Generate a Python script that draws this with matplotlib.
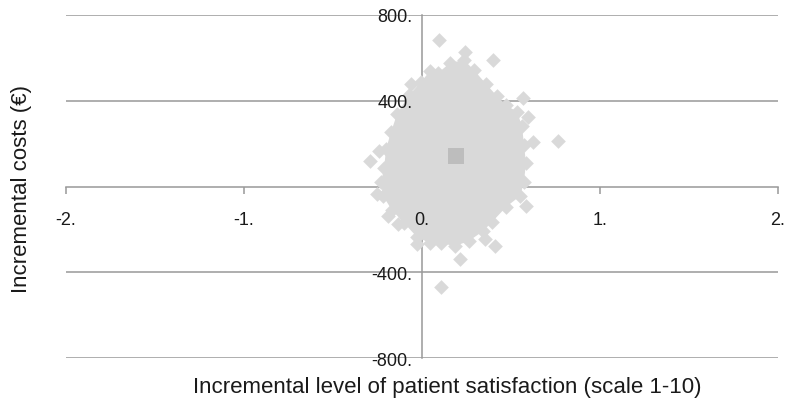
import matplotlib.pyplot as plt

plt.rcParams['font.family'] = ['Liberation Sans', 'DejaVu Sans']

# outer ring of the bootstrap cloud (centres of the edge diamonds)
edge_x = [0.090, 0.157, 0.236, 0.292, 0.360, 0.421, 0.472, 0.534, 0.562, 0.573,
          0.584, 0.573, 0.551, 0.472, 0.393, 0.343, 0.264, 0.185, 0.107, 0.045,
          -0.028, -0.101, -0.169, -0.219, -0.230, -0.213, -0.202, -0.174, -0.140,
          -0.073, -0.006, 0.045]
edge_y = [529, 576, 590, 543, 478, 422, 380, 348, 282, 194,
          110, 21, -44, -96, -166, -208, -254, -278, -264, -264,
          -236, -170, -110, -44, 21, 86, 175, 254, 338,
          426, 487, 539]

# loose replicates outside the dense core
out_x = [0.096, 0.399, 0.242, -0.062, -0.292, -0.242, 0.567, 0.596, 0.764, 0.624,
         0.584, 0.354, 0.410, 0.213, 0.107, -0.028, -0.253, -0.191, -0.135]
out_y = [683, 590, 627, 478, 119, 166, 413, 324, 212, 207,
         -91, -245, -278, -338, -469, -268, -35, -138, -175]

mean_x = [0.19]
mean_y = [140]

x_ticks = [-2, -1, 0, 1, 2]
x_labels = ['-2.', '-1.', '0.', '1.', '2.']
y_grid = [-800, -400, 400, 800]
y_labels = ['-800.', '-400.', '400.', '800.']

cloud_color = '#d9d9d9'
grid_color = '#999999'
text_color = '#1a1a1a'

fig = plt.figure(figsize=(7.94, 4.02), dpi=100)
ax = fig.add_axes([66 / 794, 1 - 359 / 402, 712 / 794, 343 / 402])
ax.set_xlim(-2, 2)
ax.set_ylim(-800, 800)

for g in y_grid:
    ax.axhline(g, color=grid_color, lw=1.1, zorder=0.5)

ax.fill(edge_x, edge_y, color=cloud_color, lw=0, zorder=1)
ax.scatter(edge_x + out_x, edge_y + out_y, marker='D', s=56, color=cloud_color,
           linewidths=0, zorder=1.2)
ax.scatter(mean_x, mean_y, marker='s', s=130, color='#bdbdbd', linewidths=0, zorder=1.5)

for side in ['top', 'right']:
    ax.spines[side].set_visible(False)
ax.spines['left'].set_position(('data', 0))
ax.spines['bottom'].set_position(('data', 0))
for side in ['left', 'bottom']:
    ax.spines[side].set_color(grid_color)
    ax.spines[side].set_linewidth(1.1)
    ax.spines[side].set_zorder(0.5)

ax.set_xticks(x_ticks)
ax.set_xticklabels(x_labels)
ax.set_yticks(y_grid)
ax.set_yticklabels(y_labels)
ax.tick_params(axis='x', direction='out', length=5, width=1.1, color=grid_color,
               pad=13, labelsize=13, labelcolor=text_color)
ax.tick_params(axis='y', length=0, pad=7, labelsize=13, labelcolor=text_color)
ax.xaxis.get_major_ticks()[2].tick1line.set_visible(False)

fig.text(447 / 794, 1 - 388 / 402, 'Incremental level of patient satisfaction (scale 1-10)',
         ha='center', va='center', fontsize=16, color=text_color)
fig.text(22 / 794, 1 - 189 / 402, 'Incremental costs (€)', rotation=90,
         ha='center', va='center', fontsize=16, color=text_color)

fig.savefig('out.png', dpi=100)
